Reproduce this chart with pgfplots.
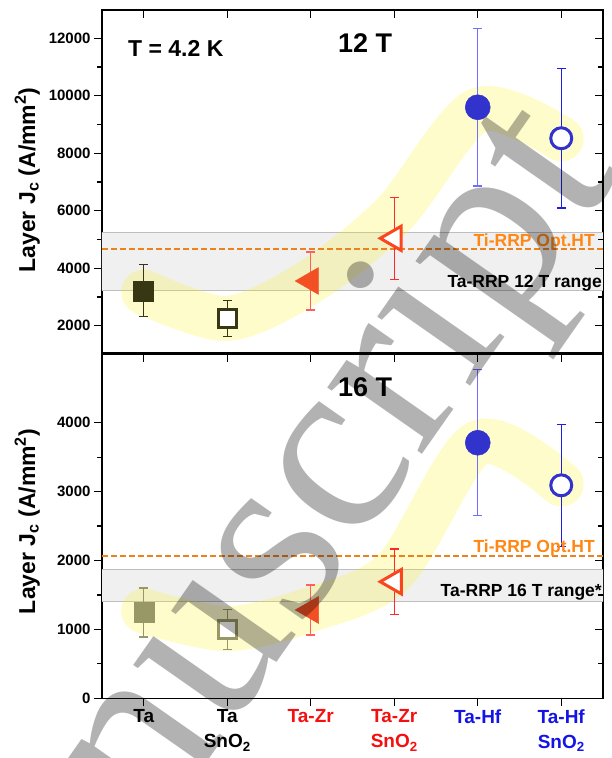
\documentclass[border=0pt]{standalone}
\usepackage{pgfplots}
\pgfplotsset{compat=1.18}
\usepackage{fontspec}
\setmainfont{Liberation Sans}
\newfontfamily\wmfont{Liberation Serif}

\definecolor{taC}{RGB}{55,55,20}
\definecolor{taL}{RGB}{152,152,102}
\definecolor{zrC}{RGB}{242,80,36}
\definecolor{zrBar}{RGB}{255,95,95}
\definecolor{zrsC}{RGB}{250,70,30}
\definecolor{zrsBar}{RGB}{255,40,40}
\definecolor{hfC}{RGB}{50,50,205}
\definecolor{hfBar}{RGB}{110,110,255}
\definecolor{hfsBar}{RGB}{30,30,225}
\definecolor{optC}{RGB}{255,135,20}
\definecolor{dashC}{RGB}{235,130,30}
\definecolor{bandC}{RGB}{240,240,240}
\definecolor{bandLine}{RGB}{190,190,190}
\definecolor{xred}{RGB}{245,15,15}
\definecolor{xblue}{RGB}{20,20,230}

\pgfplotsset{
  panel/.style={
    scale only axis, width=501pt, anchor=south west,
    xmin=0.5, xmax=6.5, xtick={1,2,3,4,5,6},
    minor y tick num=1,
    axis line style={line width=1.6pt},
    major tick length=8pt, minor tick length=5pt,
    tick style={black, line width=1.2pt},
    scaled ticks=false,
    /pgf/number format/1000 sep={},
    /pgf/number format/assume math mode=true,
    yticklabel style={font=\fontsize{15}{15}\selectfont\bfseries},
    xticklabel style={font=\fontsize{19}{25}\selectfont\bfseries, align=center},
  },
  ebar/.style={forget plot, only marks, mark=none,
    error bars/.cd, y dir=both, y explicit,
    error bar style={#1, line width=1.2pt, solid},
    error mark options={rotate=90, #1, mark size=4.5pt, line width=1.2pt},
    /pgfplots/.cd},
  hl/.style={yellow, opacity=0.2, line width=45pt, smooth, line cap=round, line join=round},
  optline/.style={draw=dashC, dash pattern=on 6pt off 3pt, line width=1.6pt},
}

\begin{document}
\begin{tikzpicture}
\useasboundingbox (0,0) rectangle (611pt,758pt);

% ---------------- top panel (12 T) ----------------
\begin{axis}[panel, at={(102pt,404.7pt)}, height=343.3pt,
  ymin=1040, ymax=12985, ytick={2000,4000,...,12000},
  xticklabels={}, tick align=outside, xtick pos=bottom, ytick pos=left]
  \addplot[draw=none, fill=bandC] coordinates {(0.5,3218) (6.5,3218) (6.5,5250) (0.5,5250) (0.5,3218)};
  \addplot[bandLine, line width=1pt] coordinates {(0.5,3218) (6.5,3218)};
  \addplot[bandLine, line width=1pt] coordinates {(0.5,5250) (6.5,5250)};
  \addplot[hl] coordinates {(1,3170) (2,2250) (3,3550) (4,5900) (5,9500) (6,8500)};
  \addplot[optline] coordinates {(0.5,4669) (6.5,4669)};
  % error bars
  \addplot[ebar=taC] coordinates {(1,3215) +- (0,905)};
  \addplot[ebar=taC] coordinates {(2,2244) +- (0,630)};
  \addplot[ebar=zrBar] coordinates {(3,3556) +- (0,1010)};
  \addplot[ebar=zrsBar] coordinates {(4,5041) +- (0,1420)};
  \addplot[ebar=hfBar] coordinates {(5,9600) +- (0,2740)};
  \addplot[ebar=hfsBar] coordinates {(6,8522) +- (0,2424)};
  % markers
  \addplot[only marks, mark=square*, mark size=10pt, mark options={fill=taC, draw=taC, line width=0.5pt}] coordinates {(1,3215)};
  \addplot[only marks, mark=square*, mark size=9pt, mark options={fill=white, draw=taC, line width=3pt}] coordinates {(2,2244)};
  \addplot[only marks, mark=triangle*, mark size=15.5pt, mark options={rotate=90, fill=zrC, draw=zrC, line width=0.5pt}] coordinates {(3,3556)};
  \addplot[only marks, mark=triangle*, mark size=14pt, mark options={rotate=90, fill=white, draw=zrsC, line width=3pt}] coordinates {(4,5041)};
  \addplot[only marks, mark=*, mark size=12.5pt, mark options={fill=hfC, draw=hfC, line width=0.5pt}] coordinates {(5,9600)};
  \addplot[only marks, mark=*, mark size=10.5pt, mark options={fill=white, draw=hfC, line width=3pt}] coordinates {(6,8522)};
\end{axis}
\begin{axis}[panel, at={(102pt,404.7pt)}, height=343.3pt,
  ymin=1040, ymax=12985, ytick={2000,4000,...,12000},
  xticklabels={}, yticklabels={}, tick align=inside, xtick pos=top, ytick pos=right,
  axis line style={draw=none}]
\end{axis}

% ---------------- bottom panel (16 T) ----------------
\begin{axis}[panel, at={(102pt,59.7pt)}, height=344.5pt,
  ymin=0, ymax=5000, ytick={0,1000,...,4000},
  xticklabels={Ta, {Ta\\SnO\textsubscript{2}}, \textcolor{xred}{Ta-Zr}, {\textcolor{xred}{Ta-Zr}\\\textcolor{xred}{SnO\textsubscript{2}}}, \textcolor{xblue}{Ta-Hf}, {\textcolor{xblue}{Ta-Hf}\\\textcolor{xblue}{SnO\textsubscript{2}}}},
  tick align=outside, xtick pos=bottom, ytick pos=left]
  \addplot[draw=none, fill=bandC] coordinates {(0.5,1402) (6.5,1402) (6.5,1872) (0.5,1872) (0.5,1402)};
  \addplot[bandLine, line width=1pt] coordinates {(0.5,1402) (6.5,1402)};
  \addplot[bandLine, line width=1pt] coordinates {(0.5,1872) (6.5,1872)};
  \addplot[hl] coordinates {(1,1267) (2,1010) (3,1290) (4,1850) (5,3710) (6,3110)};
  \addplot[optline] coordinates {(0.5,2069) (6.5,2069)};
  % error bars
  \addplot[ebar=taL] coordinates {(1,1245) +- (0,355)};
  \addplot[ebar=taL] coordinates {(2,1001) +- (0,288)};
  \addplot[ebar=zrBar] coordinates {(3,1282) +- (0,362)};
  \addplot[ebar=zrsBar] coordinates {(4,1692) +- (0,476)};
  \addplot[ebar=hfBar] coordinates {(5,3709) +- (0,1059)};
  \addplot[ebar=hfsBar] coordinates {(6,3091) +- (0,885)};
  % markers
  \addplot[only marks, mark=square*, mark size=10pt, mark options={fill=taL, draw=taL, line width=0.5pt}] coordinates {(1,1245)};
  \addplot[only marks, mark=square*, mark size=9pt, mark options={fill=white, draw=taL, line width=3pt}] coordinates {(2,1001)};
  \addplot[only marks, mark=triangle*, mark size=15.5pt, mark options={rotate=90, fill=zrC, draw=zrC, line width=0.5pt}] coordinates {(3,1282)};
  \addplot[only marks, mark=triangle*, mark size=14pt, mark options={rotate=90, fill=white, draw=zrsC, line width=3pt}] coordinates {(4,1692)};
  \addplot[only marks, mark=*, mark size=12.5pt, mark options={fill=hfC, draw=hfC, line width=0.5pt}] coordinates {(5,3709)};
  \addplot[only marks, mark=*, mark size=10.5pt, mark options={fill=white, draw=hfC, line width=3pt}] coordinates {(6,3091)};
\end{axis}
\begin{axis}[panel, at={(102pt,59.7pt)}, height=344.5pt,
  ymin=0, ymax=5000, ytick={0,1000,...,4000},
  xticklabels={}, yticklabels={}, tick align=inside, xtick pos=top, ytick pos=right,
  axis line style={draw=none}]
\end{axis}

% ---------------- texts ----------------
\node[anchor=base west, inner sep=0pt, font=\fontsize{23}{23}\selectfont\bfseries] at (128pt,701pt) {T = 4.2 K};
\node[anchor=base west, inner sep=0pt, font=\fontsize{27}{27}\selectfont\bfseries] at (338pt,705pt) {12 T};
\node[anchor=base west, inner sep=0pt, font=\fontsize{27}{27}\selectfont\bfseries] at (338pt,361pt) {16 T};
\node[anchor=base east, inner sep=0pt, text=optC, font=\fontsize{17.5}{17.5}\selectfont\bfseries] at (595pt,511.3pt) {Ti-RRP Opt.HT};
\node[anchor=base east, inner sep=0pt, font=\fontsize{17.5}{17.5}\selectfont\bfseries] at (602pt,470.7pt) {Ta-RRP 12 T range};
\node[anchor=base east, inner sep=0pt, text=optC, font=\fontsize{17.5}{17.5}\selectfont\bfseries] at (595pt,205pt) {Ti-RRP Opt.HT};
\node[anchor=base east, inner sep=0pt, font=\fontsize{17.5}{17.5}\selectfont\bfseries] at (602pt,161.3pt) {Ta-RRP 16 T range*};
\node[rotate=90, anchor=base, inner sep=0pt, font=\fontsize{23}{23}\selectfont\bfseries] at (35pt,578pt) {Layer J\textsubscript{c} (A/mm\textsuperscript{2})};
\node[rotate=90, anchor=base, inner sep=0pt, font=\fontsize{23}{23}\selectfont\bfseries] at (35pt,236.5pt) {Layer J\textsubscript{c} (A/mm\textsuperscript{2})};

% ---------------- watermark ----------------
\begin{scope}
\clip (0,0) rectangle (611pt,758pt);
\node[rotate=55, anchor=base west, inner sep=0pt, outer sep=0pt, text=black, text opacity=0.3, font=\wmfont\fontsize{252}{252}\selectfont] at (-38pt,-354.5pt) {Manuscript};
\end{scope}
\end{tikzpicture}
\end{document}
